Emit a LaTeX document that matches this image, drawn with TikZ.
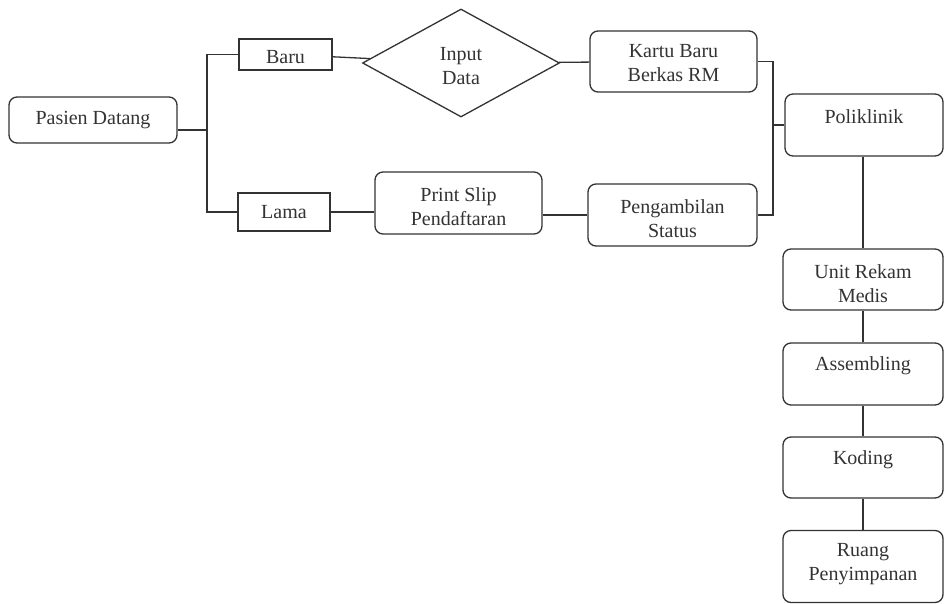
\documentclass[tikz,border=0pt]{standalone}
\usepackage{fontspec}
\setmainfont{Liberation Serif}
\usetikzlibrary{shapes.geometric,calc}
\definecolor{ink}{HTML}{333333}
\begin{document}
\begin{tikzpicture}[x=1pt,y=-1pt,
  every node/.style={font=\fontsize{20}{24}\selectfont, text=ink, align=center, inner sep=0pt},
  rbox/.style={draw=ink, line width=1.3pt, rounded corners=8pt},
  sbox/.style={draw=ink, line width=1.3pt},
  dbox/.style={draw=ink, line width=1.3pt, diamond, aspect=1.82},
  conn/.style={draw=ink, line width=1.3pt}]
\useasboundingbox (0,0) rectangle (945,604);
\fill[white] (0,0) rectangle (945,604);

% boxes
\node[rbox, minimum width=168pt, minimum height=46pt] (pasien) at (93,120) {};
\node[sbox, minimum width=93pt, minimum height=31pt] (baru) at (285.5,54.5) {};
\node[sbox, minimum width=92pt, minimum height=38pt] (lama) at (284,212) {};
\node[dbox, minimum width=197pt, minimum height=108pt] (input) at (461,63) {};
\node[rbox, minimum width=167pt, minimum height=61pt] (kartu) at (673.5,61.5) {};
\node[rbox, minimum width=167pt, minimum height=62pt] (print) at (458.5,203) {};
\node[rbox, minimum width=169pt, minimum height=62pt] (peng) at (672.5,215) {};
\node[rbox, minimum width=158pt, minimum height=62pt] (poli) at (864,125) {};
\node[rbox, minimum width=160pt, minimum height=61pt] (unit) at (863,279.5) {};
\node[rbox, minimum width=160pt, minimum height=62pt] (assem) at (863,374) {};
\node[rbox, minimum width=160pt, minimum height=61pt] (koding) at (863,467.5) {};
\node[rbox, minimum width=160pt, minimum height=72pt] (ruang) at (863,566.5) {};

% texts
\node (pasien-t) at (pasien) {Pasien Datang};
\node (baru-t) at ($(baru)+(0,3)$) {Baru};
\node (lama-t) at (lama) {Lama};
\node (input-t) at ($(input)+(0,3.5)$) {Input\\Data};
\node (kartu-t) at ($(kartu)+(0,2)$) {Kartu Baru\\Berkas RM};
\node (print-t) at ($(print)+(0,4)$) {Print Slip\\Pendaftaran};
\node (peng-t) at ($(peng)+(0,4)$) {Pengambilan\\Status};
\node (poli-t) at ($(poli)+(0,-8)$) {Poliklinik};
\node (unit-t) at ($(unit)+(0,4.5)$) {Unit Rekam\\Medis};
\node (assem-t) at ($(assem)+(0,-8)$) {Assembling};
\node (koding-t) at ($(koding)+(0,-8)$) {Koding};
\node (ruang-t) at ($(ruang)+(0,-2.5)$) {Ruang\\Penyimpanan};

% connectors
\coordinate (j1) at (207,130);
\coordinate (j2) at (773,125);

\path[conn] ([yshift=-10pt]pasien.east) -- (j1);
\path[conn] (baru.west) -| (j1) |- (lama.west);
\path[conn] (baru) -- (input);
\path[conn] (input) -- (kartu);
\path[conn] (lama.east) -- (lama.east -| print.west);
\path[conn] (peng.west -| print.east) -- (peng.west);
\path[conn] (kartu.east) -| (j2) |- (peng.east);
\path[conn] (j2) -- (poli.west);
\path[conn] (unit.north |- poli.south) -- (unit.north);
\path[conn] (unit.south) -- (assem.north);
\path[conn] (assem.south) -- (koding.north);
\path[conn] (koding.south) -- (ruang.north);
\end{tikzpicture}
\end{document}
